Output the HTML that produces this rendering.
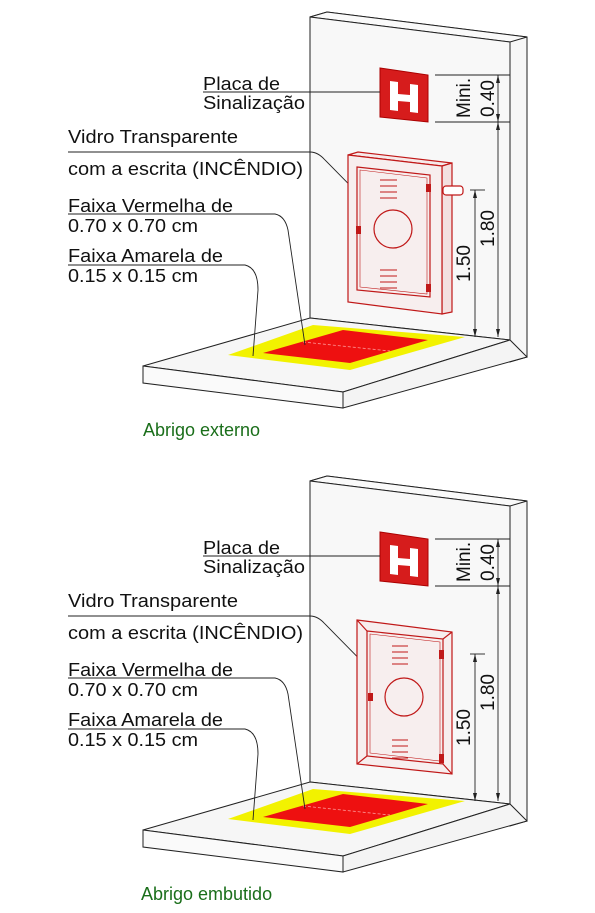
<!DOCTYPE html>
<html><head><meta charset="utf-8"><style>
html,body{margin:0;padding:0;background:#fff}
svg{display:block}
text{font-family:"Liberation Sans",Arial,sans-serif;fill:#111}
</style></head><body>
<svg width="595" height="913" viewBox="0 0 595 913">
<defs>
<g id="scene-base">
  <polygon points="310,17 327,12 527,37 527,357 510,362 510,42" fill="#f7f7f7" stroke="#222" stroke-width="1"/>
  <polygon points="310,17 327,12 527,37 510,42" fill="#fafafa" stroke="#222" stroke-width="1"/>
  <polygon points="310,17 510,42 510,340 310,318" fill="#f8f8f8" stroke="#222" stroke-width="1"/>
  <polygon points="143,366 310,318 510,340 343,392" fill="#f6f6f6" stroke="#222" stroke-width="1"/>
  <polygon points="143,366 343,392 343,408 143,383" fill="#fafafa" stroke="#222" stroke-width="1"/>
  <polygon points="343,392 510,340 527,357 343,408" fill="#f4f4f4" stroke="#222" stroke-width="1"/>
  <polygon points="228,355 313,325 465,337 350,370" fill="#f2f200"/>
  <polygon points="263,353 343,330 428,340 350,363" fill="#ee1010"/>
  <line x1="303" y1="342" x2="390" y2="351" stroke="#ff9a9a" stroke-width="0.8" stroke-dasharray="3,2"/>
  <polygon points="380,68 428,75 428,122 380,117" fill="#d61c1c" stroke="#a00" stroke-width="1"/>
  <polygon points="390,81 398,82 398,94 410,95 410,84 418,85 418,113 410,112 410,102 398,101 398,111 390,110" fill="#fff"/>
  <g stroke="#222" stroke-width="0.9" fill="none">
    <line x1="435" y1="75" x2="510" y2="75"/>
    <line x1="435" y1="122" x2="510" y2="122"/>
    <line x1="498" y1="75" x2="498" y2="337"/>
    <line x1="475" y1="190" x2="475" y2="337"/>
    <line x1="470" y1="190" x2="485" y2="190"/>
  </g>
  <g fill="#222">
    <polygon points="498,75 496,83 500,83"/><polygon points="498,122 496,114 500,114"/>
    <polygon points="498,122 496,130 500,130"/><polygon points="498,337 496,329 500,329"/>
    <polygon points="475,190 473,198 477,198"/><polygon points="475,337 473,329 477,329"/>
  </g>
  <text transform="translate(470,118) rotate(-90)" font-size="19">Mini.</text>
  <text transform="translate(494,117) rotate(-90)" font-size="19">0.40</text>
  <text transform="translate(494,247) rotate(-90)" font-size="19">1.80</text>
  <text transform="translate(470,282) rotate(-90)" font-size="19">1.50</text>
  <text x="203" y="90" font-size="18.5" textLength="77" lengthAdjust="spacingAndGlyphs">Placa de</text>
  <text x="203" y="109" font-size="18.5" textLength="102" lengthAdjust="spacingAndGlyphs">Sinalização</text>
  <text x="68" y="143" font-size="18.5" textLength="170" lengthAdjust="spacingAndGlyphs">Vidro Transparente</text>
  <text x="68" y="175" font-size="18.5" textLength="235" lengthAdjust="spacingAndGlyphs">com a escrita (INCÊNDIO)</text>
  <text x="68" y="212" font-size="18.5" textLength="165" lengthAdjust="spacingAndGlyphs">Faixa Vermelha de</text>
  <text x="68" y="232" font-size="18.5" textLength="130" lengthAdjust="spacingAndGlyphs">0.70 x 0.70 cm</text>
  <text x="68" y="262" font-size="18.5" textLength="155" lengthAdjust="spacingAndGlyphs">Faixa Amarela de</text>
  <text x="68" y="282" font-size="18.5" textLength="130" lengthAdjust="spacingAndGlyphs">0.15 x 0.15 cm</text>
  <g stroke="#222" stroke-width="0.9" fill="none">
    <line x1="203" y1="92" x2="380" y2="92"/>
    <path d="M68,152 L310,152 Q318,152 325,160 L393,229"/>
    <path d="M68,214 L275,214 Q285,216 288,230 L305,345"/>
    <path d="M68,265 L245,265 Q258,268 258,290 L253,356"/>
  </g>
</g>
</defs>

<g>
  <use href="#scene-base"/>
  <g stroke="#c01818" stroke-width="1.2" fill="none">
    <polygon points="348,155 358,152 452,163 442,166" fill="#f6eaea"/>
    <polygon points="442,166 452,163 452,312 442,314" fill="#f3e0e0"/>
    <polygon points="348,155 442,166 442,314 348,302" fill="#f7eeee"/>
    <polygon points="357,167 430,175 430,297 357,290"/>
    <polygon points="360,170 427,178 427,294 360,287" stroke-width="0.6"/>
    <circle cx="393" cy="229" r="19"/>
    <rect x="443" y="186" width="20" height="9" rx="3" fill="#fff"/>
    <g stroke-width="1">
      <path d="M380,180 h17 M380,186 h17 M380,192 h17 M380,198 h17"/>
      <path d="M380,270 h17 M380,276 h17 M380,282 h17 M380,288 h17"/>
    </g>
  </g>
  <g fill="#c01818"><rect x="426" y="184" width="5" height="8"/><rect x="356" y="226" width="5" height="8"/><rect x="426" y="284" width="5" height="8"/></g>
  <text x="143" y="436" font-size="18" style="fill:#1a6e1a">Abrigo externo</text>
</g>

<g transform="translate(0,464)">
  <use href="#scene-base"/>
  <g stroke="#c01818" stroke-width="1.2" fill="none">
    <polygon points="357,156 452,168 452,310 357,300" fill="#f7eeee"/>
    <polygon points="367,167 443,175 443,300 367,292"/>
    <line x1="357" y1="156" x2="367" y2="167"/><line x1="452" y1="168" x2="443" y2="175"/>
    <line x1="452" y1="310" x2="443" y2="300"/><line x1="357" y1="300" x2="367" y2="292"/>
    <polygon points="370,170 440,178 440,297 370,289" stroke-width="0.6"/>
    <circle cx="404" cy="233" r="19"/>
    <g stroke-width="1">
      <path d="M392,182 h16 M392,188 h16 M392,194 h16 M392,200 h16"/>
      <path d="M392,276 h16 M392,282 h16 M392,288 h16 M392,294 h16"/>
    </g>
  </g>
  <g fill="#c01818"><rect x="439" y="186" width="5" height="9"/><rect x="368" y="229" width="5" height="8"/><rect x="439" y="290" width="5" height="9"/></g>
  <text x="141" y="436" font-size="18" style="fill:#1a6e1a">Abrigo embutido</text>
</g>
</svg>
</body></html>
